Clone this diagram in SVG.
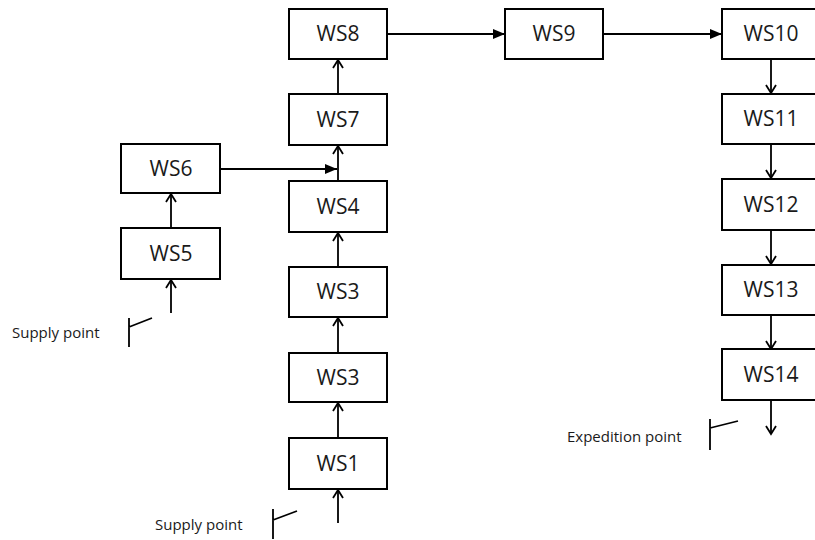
<svg xmlns="http://www.w3.org/2000/svg" width="815" height="540" viewBox="0 0 815 540">
<style>
.box{fill:#fff;stroke:#000;stroke-width:2}
.lbl{font-family:"Open Sans","Noto Sans",sans-serif;font-size:21px;fill:#1a1a1a;text-anchor:middle}
.small{font-family:"Open Sans","Noto Sans",sans-serif;font-size:15px;fill:#1a1a1a}
.ln{stroke:#000;stroke-width:1.8;fill:none}
</style>
<defs>
<marker id="open" markerWidth="16" markerHeight="16" refX="9" refY="8" orient="auto" markerUnits="userSpaceOnUse">
<path d="M1,3 L9,8 L1,13" fill="none" stroke="#000" stroke-width="1.8"/>
</marker>
<marker id="fill" markerWidth="14" markerHeight="12" refX="12" refY="6" orient="auto" markerUnits="userSpaceOnUse">
<path d="M0,1 L12,6 L0,11 Z" fill="#000"/>
</marker>
</defs>
<rect width="815" height="540" fill="#fff"/>
<g id="connectors">
<line class="ln" x1="338" y1="523" x2="338" y2="490" marker-end="url(#open)"/>
<line class="ln" x1="338" y1="438" x2="338" y2="403" marker-end="url(#open)"/>
<line class="ln" x1="338" y1="353" x2="338" y2="318" marker-end="url(#open)"/>
<line class="ln" x1="338" y1="267" x2="338" y2="233" marker-end="url(#open)"/>
<line class="ln" x1="338" y1="181" x2="338" y2="146" marker-end="url(#open)"/>
<line class="ln" x1="338" y1="94" x2="338" y2="60" marker-end="url(#open)"/>
<line class="ln" x1="171" y1="313" x2="171" y2="280" marker-end="url(#open)"/>
<line class="ln" x1="171" y1="228" x2="171" y2="194" marker-end="url(#open)"/>
<line class="ln" x1="220" y1="169" x2="337" y2="169" marker-end="url(#fill)"/>
<line class="ln" x1="387" y1="34" x2="505" y2="34" marker-end="url(#fill)"/>
<line class="ln" x1="603" y1="34" x2="722" y2="34" marker-end="url(#fill)"/>
<line class="ln" x1="771" y1="59" x2="771" y2="93" marker-end="url(#open)"/>
<line class="ln" x1="771" y1="144" x2="771" y2="178" marker-end="url(#open)"/>
<line class="ln" x1="771" y1="230" x2="771" y2="264" marker-end="url(#open)"/>
<line class="ln" x1="771" y1="315" x2="771" y2="349" marker-end="url(#open)"/>
<line class="ln" x1="771" y1="400" x2="771" y2="434" marker-end="url(#open)"/>
</g>
<g id="WS8"><rect class="box" x="289" y="9" width="98" height="50"/><text class="lbl" x="338" y="41">WS8</text></g>
<g id="WS7"><rect class="box" x="289" y="94" width="98" height="51"/><text class="lbl" x="338" y="127">WS7</text></g>
<g id="WS4"><rect class="box" x="289" y="181" width="98" height="51"/><text class="lbl" x="338" y="214">WS4</text></g>
<g id="WS3a"><rect class="box" x="289" y="267" width="98" height="50"/><text class="lbl" x="338" y="299">WS3</text></g>
<g id="WS3b"><rect class="box" x="289" y="353" width="98" height="49"/><text class="lbl" x="338" y="385">WS3</text></g>
<g id="WS1"><rect class="box" x="289" y="438" width="98" height="51"/><text class="lbl" x="338" y="471">WS1</text></g>
<g id="WS6"><rect class="box" x="121" y="144" width="99" height="49"/><text class="lbl" x="171" y="176">WS6</text></g>
<g id="WS5"><rect class="box" x="121" y="228" width="99" height="51"/><text class="lbl" x="171" y="261">WS5</text></g>
<g id="WS9"><rect class="box" x="505" y="9" width="98" height="50"/><text class="lbl" x="554" y="41">WS9</text></g>
<g id="WS10"><rect class="box" x="722" y="9" width="98" height="50"/><text class="lbl" x="771" y="41">WS10</text></g>
<g id="WS11"><rect class="box" x="722" y="94" width="98" height="50"/><text class="lbl" x="771" y="126">WS11</text></g>
<g id="WS12"><rect class="box" x="722" y="179" width="98" height="51"/><text class="lbl" x="771" y="212">WS12</text></g>
<g id="WS13"><rect class="box" x="722" y="265" width="98" height="50"/><text class="lbl" x="771" y="297">WS13</text></g>
<g id="WS14"><rect class="box" x="722" y="349" width="98" height="51"/><text class="lbl" x="771" y="382">WS14</text></g>
<g id="supply1">
<text class="small" x="12" y="338">Supply point</text>
<path class="ln" d="M129,318 V347 M129,327 L152,318"/>
</g>
<g id="supply2">
<text class="small" x="155" y="530">Supply point</text>
<path class="ln" d="M273,509 V539 M273,520 L297,511"/>
</g>
<g id="expedition">
<text class="small" x="567" y="442">Expedition point</text>
<path class="ln" d="M710,419 V450 M710,428 L738,421"/>
</g>
</svg>
